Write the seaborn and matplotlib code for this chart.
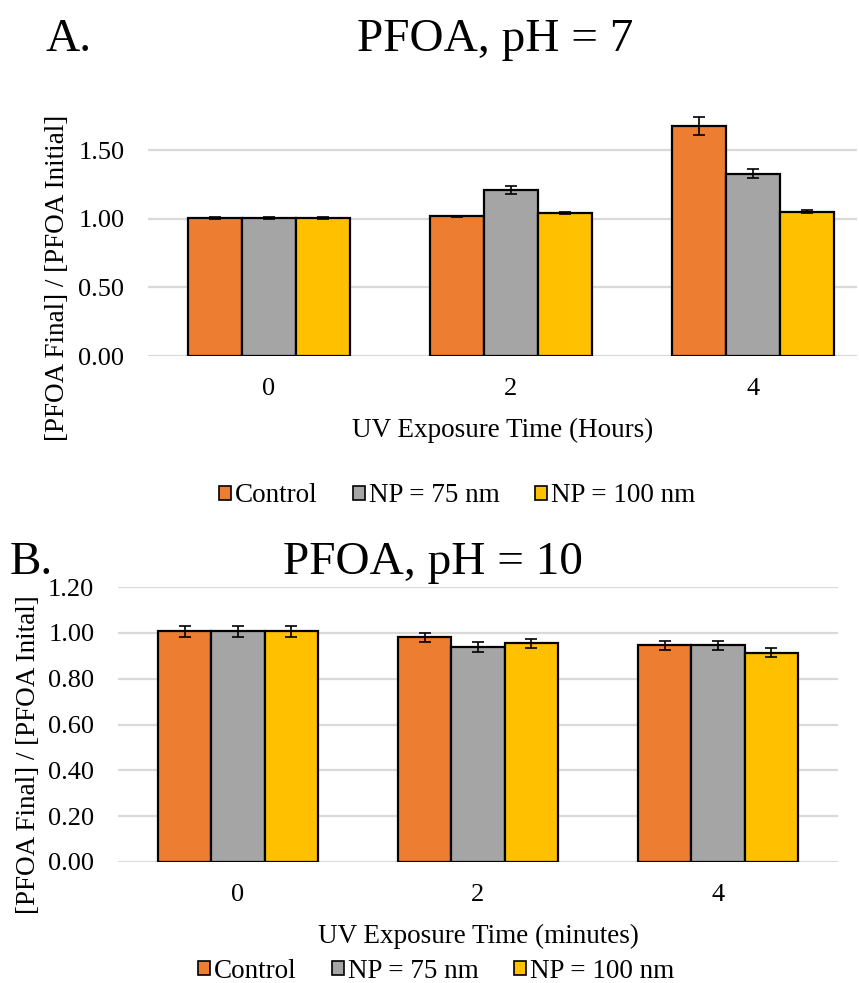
import numpy as np
import pandas as pd
import matplotlib
matplotlib.use("Agg")
import matplotlib.pyplot as plt
import seaborn as sns
from matplotlib.patches import Patch

sns.set_style("white")
plt.rcParams['font.family'] = ['Liberation Serif', 'DejaVu Serif']
plt.rcParams['text.color'] = 'black'
plt.rcParams['axes.labelcolor'] = 'black'
plt.rcParams['xtick.color'] = 'black'
plt.rcParams['ytick.color'] = 'black'

# ---------------- data ----------------
series = ["Control", "NP = 75 nm", "NP = 100 nm"]
colors = ["#ED7D31", "#A5A5A5", "#FFC000"]
times = ["0", "2", "4"]

# Panel A: pH = 7 (hours)
a_control = [1.005, 1.017, 1.675]
a_np75 = [1.005, 1.207, 1.329]
a_np100 = [1.005, 1.043, 1.053]
a_control_err = [0.008, 0.006, 0.065]
a_np75_err = [0.008, 0.030, 0.034]
a_np100_err = [0.008, 0.008, 0.008]

# Panel B: pH = 10 (minutes)
b_control = [1.007, 0.980, 0.946]
b_np75 = [1.007, 0.938, 0.946]
b_np100 = [1.007, 0.954, 0.914]
b_control_err = [0.023, 0.020, 0.019]
b_np75_err = [0.023, 0.020, 0.019]
b_np100_err = [0.023, 0.019, 0.020]

a_yticks = [0.0, 0.5, 1.0, 1.5]
b_yticks = [0.0, 0.2, 0.4, 0.6, 0.8, 1.0, 1.2]


def make_df(vals, errs):
    rows = []
    for s, v, e in zip(series, vals, errs):
        for t, vv, ee in zip(times, v, e):
            rows.append({"time": t, "value": vv, "err": ee, "series": s})
    return pd.DataFrame(rows)


df_a = make_df([a_control, a_np75, a_np100], [a_control_err, a_np75_err, a_np100_err])
df_b = make_df([b_control, b_np75, b_np100], [b_control_err, b_np75_err, b_np100_err])

W, H = 859, 983
fig = plt.figure(figsize=(W / 100, H / 100), dpi=100)


def px_axes(left, right, top, bottom):
    return fig.add_axes([left / W, 1 - bottom / H, (right - left) / W, (bottom - top) / H])


FS = 19.5
TFS = 19
grid_c = "#D9D9D9"


def draw(ax, df, yticks, ylim, xlim, xlabel, ylabel):
    sns.barplot(data=df, x="time", y="value", hue="series", order=times,
                hue_order=series, palette=colors, width=0.667, gap=0,
                errorbar=None, edgecolor="black", linewidth=1.6,
                legend=False, ax=ax, zorder=3, saturation=1)
    for cont, s in zip(ax.containers, series):
        sub = df[df["series"] == s].set_index("time").loc[times]
        xs = [b.get_x() + b.get_width() / 2 for b in cont]
        hs = [b.get_height() for b in cont]
        ax.errorbar(xs, hs, yerr=sub["err"].values, fmt="none", ecolor="black",
                    elinewidth=1.2, capsize=4.5, capthick=1.2, zorder=4)
    ax.set_ylim(*ylim)
    ax.set_xlim(*xlim)
    ax.set_yticks(yticks)
    ax.set_yticklabels([f"{t:.2f}" for t in yticks], fontsize=TFS)
    ax.tick_params(axis="x", labelsize=TFS, pad=16, length=0)
    ax.tick_params(axis="y", pad=17, length=0)
    ax.grid(axis="y", color=grid_c, linewidth=1.6, zorder=0)
    ax.set_axisbelow(True)
    for sp in ax.spines.values():
        sp.set_visible(False)
    ax.set_xlabel(xlabel, fontsize=FS, labelpad=13)
    ax.set_ylabel(ylabel, fontsize=FS)


axA = px_axes(148, 857, 109, 356)
draw(axA, df_a, a_yticks, (0, 1.8), (-0.5, 2.43), "UV Exposure Time (Hours)",
     "[PFOA Final] / [PFOA Initial]")
axA.yaxis.set_label_coords((70 - 148) / 709, (356 - 278) / 247)

axB = px_axes(118, 838, 587, 862)
draw(axB, df_b, b_yticks, (0, 1.2), (-0.5, 2.5), "UV Exposure Time (minutes)",
     "[PFOA Final] / [PFOA Inital]")
axB.yaxis.set_label_coords((41 - 118) / 720, (862 - 755) / 275)

handles = [Patch(facecolor=c, edgecolor="black", linewidth=1.2) for c in colors]
for cx, cy in [(457, 496), (436, 971)]:
    fig.legend(handles, series, loc="center", bbox_to_anchor=(cx / W, 1 - cy / H),
               ncol=3, frameon=False, fontsize=FS, handlelength=0.45,
               handleheight=0.45, handletextpad=0.15, columnspacing=1.3,
               borderpad=0, borderaxespad=0)

TS = 34
fig.text(45 / W, 1 - 40 / H, "A.", fontsize=TS, ha="left", va="center")
fig.text(495 / W, 1 - 40 / H, "PFOA, pH = 7", fontsize=TS, ha="center", va="center")
fig.text(10 / W, 1 - 563 / H, "B.", fontsize=TS, ha="left", va="center")
fig.text(433 / W, 1 - 563 / H, "PFOA, pH = 10", fontsize=TS, ha="center", va="center")

fig.savefig("out.png", dpi=100, facecolor="white")
